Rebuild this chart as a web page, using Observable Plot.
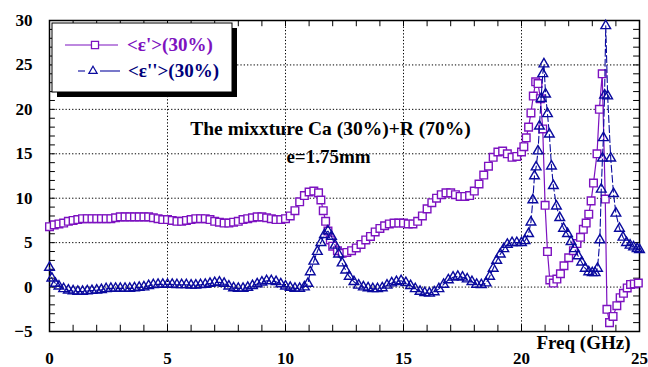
<!DOCTYPE html>
<html><head><meta charset="utf-8">
<script src="https://cdn.jsdelivr.net/npm/d3@7"></script>
<script src="https://cdn.jsdelivr.net/npm/@observablehq/plot@0.6"></script>
<style>body{margin:0;background:#fff} svg{display:block}</style>
</head><body><div id="chart"></div>
<script>
// ε' (real part) — frequency (GHz) and value
const freqReal = [0,0.2,0.4,0.6,0.8,1,1.2,1.4,1.6,1.8,2,2.2,2.4,2.6,2.8,3,3.2,3.4,3.6,3.8,4,4.2,4.4,4.6,4.8,5,5.2,5.4,5.6,5.8,6,6.2,6.4,6.6,6.8,7,7.2,7.4,7.6,7.8,8,8.2,8.4,8.6,8.8,9,9.2,9.4,9.6,9.8,10,10.2,10.4,10.6,10.8,11,11.2,11.4,11.5,11.6,11.7,11.8,11.9,12,12.2,12.4,12.6,12.8,13,13.2,13.4,13.6,13.8,14,14.2,14.4,14.6,14.8,15,15.2,15.4,15.6,15.8,16,16.2,16.4,16.6,16.8,17,17.2,17.4,17.6,17.8,18,18.2,18.4,18.6,18.8,19,19.2,19.4,19.6,19.8,20,20.1,20.2,20.3,20.4,20.5,20.6,20.7,20.8,20.9,21,21.1,21.2,21.35,21.5,21.65,21.8,22,22.2,22.35,22.5,22.62,22.74,22.85,22.95,23.05,23.2,23.3,23.42,23.55,23.62,23.73,23.88,24.04,24.18,24.32,24.48,24.62,24.78,24.95];
const epsReal = [6.8,7.0,7.1,7.2,7.4,7.5,7.6,7.7,7.7,7.7,7.7,7.7,7.7,7.7,7.8,7.9,7.9,7.9,7.9,7.9,7.9,7.9,7.8,7.7,7.6,7.6,7.5,7.4,7.4,7.5,7.6,7.7,7.7,7.7,7.6,7.4,7.3,7.2,7.2,7.3,7.4,7.6,7.7,7.8,7.9,7.9,7.8,7.7,7.6,7.6,7.7,8.0,8.6,9.6,10.3,10.7,10.8,10.6,9.8,8.6,7.4,6.3,5.3,4.6,4.1,3.8,3.9,4.1,4.4,4.8,5.3,5.7,6.2,6.6,6.9,7.1,7.2,7.2,7.2,7.1,7.1,7.4,8.0,8.8,9.5,10.0,10.4,10.6,10.6,10.4,10.2,10.2,10.3,10.8,11.6,12.6,13.6,14.6,15.2,15.3,15.0,14.6,14.7,15.2,15.8,16.8,18.0,19.6,21.5,23.1,22.9,21.2,17.8,9.2,4.0,0.8,0.45,0.9,1.5,2.4,3.3,4.1,4.9,5.6,6.5,7.2,8.2,9.7,11.7,15.0,20.0,24.0,9.9,-2.5,-4.0,-3.3,-2.1,-1.2,-0.7,-0.1,0.3,0.35,0.45];

// ε'' (imaginary part)
const freqImag = [0,0.1,0.25,0.4,0.6,0.8,1,1.2,1.4,1.6,1.8,2,2.2,2.4,2.6,2.8,3,3.2,3.4,3.6,3.8,4,4.2,4.4,4.6,4.8,5,5.2,5.4,5.6,5.8,6,6.2,6.4,6.6,6.8,7,7.2,7.4,7.6,7.8,8,8.2,8.4,8.6,8.8,9,9.2,9.4,9.6,9.8,10,10.2,10.4,10.6,10.8,10.95,11.05,11.2,11.35,11.5,11.65,11.8,11.95,12.1,12.25,12.4,12.55,12.7,12.9,13.1,13.3,13.5,13.7,13.9,14.1,14.3,14.5,14.7,14.9,15.1,15.3,15.5,15.7,15.9,16.1,16.3,16.5,16.7,16.9,17.1,17.3,17.5,17.7,17.9,18.1,18.3,18.5,18.65,18.8,18.95,19.1,19.25,19.4,19.6,19.8,20,20.15,20.3,20.4,20.48,20.55,20.62,20.7,20.76,20.83,20.9,20.95,21.02,21.1,21.18,21.27,21.35,21.48,21.62,21.78,21.95,22.1,22.25,22.4,22.55,22.7,22.85,23,23.12,23.22,23.32,23.38,23.43,23.47,23.52,23.57,23.65,23.78,23.9,24,24.15,24.3,24.45,24.6,24.75,24.9,25];
const epsImag = [2.2,1.0,0.4,0.1,-0.2,-0.35,-0.45,-0.5,-0.5,-0.45,-0.4,-0.35,-0.3,-0.2,-0.15,-0.15,-0.15,-0.15,-0.15,-0.1,-0.05,0.0,0.15,0.25,0.3,0.3,0.3,0.3,0.25,0.25,0.25,0.2,0.2,0.25,0.3,0.4,0.5,0.55,0.4,0.1,-0.1,-0.15,-0.15,-0.05,0.15,0.35,0.55,0.7,0.7,0.6,0.35,0.1,-0.05,-0.15,-0.15,0.0,0.4,1.7,2.9,4.0,5.0,5.9,6.3,5.7,4.7,3.7,2.7,1.9,1.2,0.6,0.2,0.0,-0.1,-0.2,-0.2,-0.1,0.2,0.45,0.6,0.7,0.5,0.15,-0.2,-0.5,-0.65,-0.7,-0.55,-0.2,0.3,0.8,1.1,1.2,1.1,0.9,0.6,0.3,0.25,0.45,1.2,2.1,3.0,3.7,4.3,4.8,5.0,5.0,5.0,5.2,6.0,7.3,9.8,12.5,13.5,15.3,18.1,21.2,24.0,25.1,21.7,19.5,17.2,13.6,11.4,9.1,7.8,6.6,6.0,5.1,4.3,3.5,2.8,2.1,1.7,1.6,1.6,2.1,5.3,11.0,14.5,16.8,21.6,29.4,21.5,14.5,10.5,8.3,6.6,5.6,5.0,4.7,4.5,4.3,4.2];

const seriesNames = ["<ε'>(30%)", "<ε''>(30%)"];
const annotationLines = ["The mixxture Ca (30%)+R (70%)", "e=1.75mm"];
const xLabel = "Freq (GHz)";
const xTicks = [0,5,10,15,20,25];
const yTicks = [-5,0,5,10,15,20,25,30];
const xMinor = d3.range(0, 26, 1);
const yMinor = d3.range(-5, 31, 1);

const purple = "#7d12c0";
const blue = "#0a0a9e";
const font = "Liberation Serif";

const realPts = freqReal.map((f, i) => ({f, v: epsReal[i]}));
const imagPts = freqImag.map((f, i) => ({f, v: epsImag[i]}));

const svg = Plot.plot({
  width: 648, height: 367,
  marginLeft: 49, marginRight: 9, marginTop: 20, marginBottom: 36,
  style: {fontFamily: font, fontWeight: "bold", fontSize: "17px", background: "#fff", color: "#000"},
  x: {domain: [0, 25], label: null},
  y: {domain: [-5, 30], label: null},
  marks: [
    Plot.ruleX(xTicks.slice(1, -1), {stroke: "#000", strokeWidth: 1, strokeDasharray: "1.3,2"}),
    Plot.ruleY(yTicks.slice(1, -1), {stroke: "#000", strokeWidth: 1, strokeDasharray: "1.3,2"}),
    Plot.ruleX(xMinor, {x: d => d, y1: -5, y2: -4.3, stroke: "#000"}),
    Plot.ruleX(xMinor, {x: d => d, y1: 30, y2: 29.3, stroke: "#000"}),
    Plot.ruleY(yMinor, {y: d => d, x1: 0, x2: 0.25, stroke: "#000"}),
    Plot.ruleY(yMinor, {y: d => d, x1: 25, x2: 24.75, stroke: "#000"}),
    Plot.frame({stroke: "#000", strokeWidth: 1.5}),
    Plot.line(realPts, {x: "f", y: "v", stroke: purple, strokeWidth: 1.2}),
    Plot.dot(realPts, {x: "f", y: "v", symbol: "square", r: 4.3, fill: "#fff", stroke: purple, strokeWidth: 1.4}),
    Plot.line(imagPts, {x: "f", y: "v", stroke: blue, strokeWidth: 1.1, strokeDasharray: "7,3"}),
    Plot.dot(imagPts, {x: "f", y: "v", symbol: "triangle", r: 3.6, fill: "none", stroke: blue, strokeWidth: 1.4}),
    Plot.axisX(xTicks, {tickSize: 0, tickPadding: 20, fontSize: 17, fontWeight: "bold", label: null}),
    Plot.axisY(yTicks, {tickSize: 0, tickPadding: 17, fontSize: 17, fontWeight: "bold", label: null}),
    Plot.text([xLabel], {text: d => d, frameAnchor: "bottom-right", dx: -9, dy: 17, lineAnchor: "bottom", textAnchor: "end", fontSize: 19, fontWeight: "bold", fontFamily: font, fill: "#000"}),
    Plot.text([annotationLines[0]], {text: d => d, frameAnchor: "top", dx: -14, dy: 114, lineAnchor: "bottom", textAnchor: "middle", fontSize: 19.5, fontWeight: "bold", fontFamily: font, fill: "#000"}),
    Plot.text([annotationLines[1]], {text: d => d, frameAnchor: "top", dx: -16, dy: 142, lineAnchor: "bottom", textAnchor: "middle", fontSize: 19, fontWeight: "bold", fontFamily: font, fill: "#000"})
  ]
});

// legend box with drop shadow, inside the plot frame
const g = d3.select(svg).append("g").attr("font-family", font).attr("font-weight", "bold").attr("font-size", 19).attr("text-anchor", "start");
g.append("rect").attr("x", 57).attr("y", 28).attr("width", 180).attr("height", 69).attr("fill", "#000");
g.append("rect").attr("x", 52).attr("y", 23).attr("width", 180).attr("height", 69).attr("fill", "#fff").attr("stroke", "#000").attr("stroke-width", 1);
// entry 1
g.append("line").attr("x1", 65).attr("x2", 118).attr("y1", 45).attr("y2", 45).attr("stroke", purple).attr("stroke-width", 1.2);
g.append("path").attr("d", d3.symbol(d3.symbolSquare, 50)()).attr("transform", "translate(95,45)").attr("fill", "#fff").attr("stroke", purple).attr("stroke-width", 1.3);
g.append("text").attr("x", 127).attr("y", 51).attr("text-anchor", "start").attr("fill", purple).text(seriesNames[0]);
// entry 2
g.append("line").attr("x1", 78).attr("x2", 85).attr("y1", 71).attr("y2", 71).attr("stroke", blue).attr("stroke-width", 1.1);
g.append("line").attr("x1", 100).attr("x2", 120).attr("y1", 71).attr("y2", 71).attr("stroke", blue).attr("stroke-width", 1.1);
g.append("path").attr("d", d3.symbol(d3.symbolTriangle, 30)()).attr("transform", "translate(93,71)").attr("fill", "none").attr("stroke", blue).attr("stroke-width", 1.2);
g.append("text").attr("x", 128).attr("y", 77).attr("text-anchor", "start").attr("fill", "#00007a").text(seriesNames[1]);

document.getElementById("chart").appendChild(svg);
</script>
</body></html>
